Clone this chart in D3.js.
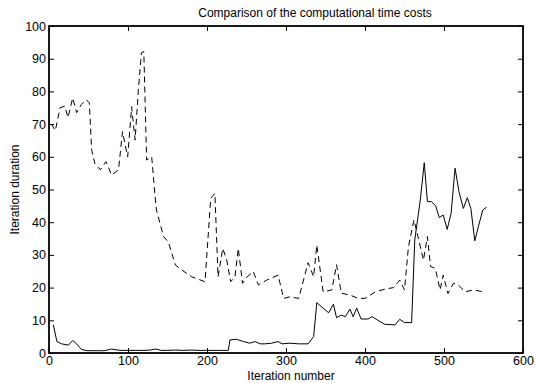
<!DOCTYPE html>
<html>
<head>
<meta charset="utf-8">
<script src="https://cdn.jsdelivr.net/npm/d3@7"></script>
<style>
  body { margin: 0; background: #fff; }
  text { font-family: "Liberation Sans", Arial, Helvetica, sans-serif; fill: #000; }
</style>
</head>
<body>
<div id="chart"></div>
<script>
"use strict";

// solid line (new method)
const solidIter = [5.5, 10, 16, 24.5, 30, 35, 41, 48, 60, 70, 79, 90, 100, 110, 120, 128, 135, 142, 150, 160, 170, 180, 190, 200, 210, 220, 227,
    229, 237.6, 246, 254, 261, 267, 273, 282, 290, 295, 305, 316, 328, 335, 339, 347, 354, 360, 364, 370, 375, 381, 385, 389.5, 395,
    404, 409, 419, 425, 438, 444, 450, 459, 463, 470, 475, 479, 484, 489.5, 494, 499, 504, 509, 514, 519, 524.5, 529.5, 534, 539, 544, 549, 554];
const solidTime = [8.6, 3.5, 2.8, 2.4, 3.8, 2.8, 1.1, 0.7, 0.7, 0.7, 1.2, 0.8, 0.8, 0.8, 0.8, 0.9, 1.2, 0.8, 0.8, 0.9, 0.8, 0.9, 0.8, 0.8, 0.8, 0.8, 0.8,
    4, 4.2, 3.5, 3, 3.5, 2.8, 2.8, 3, 3.5, 2.8, 3, 2.8, 2.8, 5, 15.4, 13.7, 12.3, 14.9, 10.8, 11.6, 11.1, 13.4, 11.1, 13.7, 10.4,
    10.4, 11.1, 9.6, 8.8, 8.6, 10.3, 9.3, 9.3, 34.6, 46.8, 58.2, 46.3, 46.3, 45, 41.4, 42.2, 37.8, 42.7, 56.5, 49.3, 44.2, 47.5, 44.2, 34.3, 39.1, 43.7, 44.6];

// dashed line (reference method)
const dashIter = [3, 8, 14, 20, 24, 30, 35, 41, 47, 51, 54, 58, 65, 72, 75, 79, 88, 93, 99.6, 104.6, 109, 113, 117, 120, 123.6, 130,
    134, 136, 145, 151, 160, 168, 180.6, 197.5, 204.7, 210, 214, 220, 225, 230, 235.4, 239.6, 245, 250, 258.6, 265, 275.6,
    290, 297, 305, 316, 328, 335, 339, 347, 358, 364, 370, 381, 391.5, 400, 413, 425, 436, 444, 450, 455, 462, 468, 474, 479, 483,
    489, 495, 499, 505, 512, 518, 527, 537, 550];
const dashTime = [70, 68, 75, 75.5, 72, 78, 73.5, 76, 77.5, 76.5, 62, 58, 56, 58.5, 57, 54.4, 56, 67.7, 60, 75.3, 65.1, 80, 91.8, 92.2, 59, 60,
    48.8, 43.7, 35.6, 34, 26.9, 25.4, 23.3, 21.8, 47.3, 48.8, 23.3, 32, 28.4, 21.8, 23.3, 32, 21.3, 23.1, 24.9, 20.8, 22.3,
    23.8, 16.7, 17.2, 16.7, 27.6, 23.3, 33, 18.7, 19.3, 27, 18.3, 17.7, 16.7, 16.7, 18.7, 19.5, 20, 22.3, 19.3, 32.5, 40.7, 34.6, 28.4, 35.6, 26.4,
    25.9, 19.3, 23.8, 18.2, 21.3, 20.8, 18.7, 19.3, 18.7];

const xTicks = [0, 100, 200, 300, 400, 500, 600];
const yTicks = [0, 10, 20, 30, 40, 50, 60, 70, 80, 90, 100];

const titleText = "Comparison of the computational time costs";
const xLabel = "Iteration number";
const yLabel = "Iteration duration";

const width = 535, height = 383;
const margin = { top: 26, right: 12, bottom: 30, left: 49 };
const innerW = width - margin.left - margin.right,
    innerH = height - margin.top - margin.bottom;

const svg = d3.select("#chart").append("svg")
    .attr("width", width)
    .attr("height", height);

const g = svg.append("g")
    .attr("transform", "translate(" + margin.left + "," + margin.top + ")");

const x = d3.scaleLinear().domain([0, 600]).range([0, innerW]);
const y = d3.scaleLinear().domain([0, 100]).range([innerH, 0]);

// axes, ticks pointing inward like matlab
const tickLen = 5;
g.append("g")
    .attr("transform", "translate(0," + innerH + ")")
    .call(d3.axisBottom(x).tickValues(xTicks).tickSizeInner(-tickLen).tickSizeOuter(0).tickPadding(3));
g.append("g")
    .call(d3.axisLeft(y).tickValues(yTicks).tickSizeInner(-tickLen).tickSizeOuter(0).tickPadding(3));
g.append("g")
    .call(d3.axisTop(x).tickValues(xTicks).tickSizeInner(-tickLen).tickSizeOuter(0).tickFormat(""));
g.append("g")
    .attr("transform", "translate(" + innerW + ",0)")
    .call(d3.axisRight(y).tickValues(yTicks).tickSizeInner(-tickLen).tickSizeOuter(0).tickFormat(""));

g.selectAll(".domain").remove();
g.selectAll(".tick line").attr("stroke", "#000").attr("stroke-width", 1);
g.selectAll(".tick text")
    .style("font-family", "'Liberation Sans', Arial, sans-serif")
    .style("font-size", "12.5px")
    .attr("fill", "#000");

// box
g.append("rect")
    .attr("width", innerW)
    .attr("height", innerH)
    .attr("fill", "none")
    .attr("stroke", "#000")
    .attr("stroke-width", 1.8);

const line = d3.line()
    .x(d => x(d[0]))
    .y(d => y(d[1]));

g.append("path")
    .datum(d3.zip(dashIter, dashTime))
    .attr("fill", "none")
    .attr("stroke", "#000")
    .attr("stroke-width", 1)
    .attr("stroke-dasharray", "6,4")
    .attr("d", line);

g.append("path")
    .datum(d3.zip(solidIter, solidTime))
    .attr("fill", "none")
    .attr("stroke", "#000")
    .attr("stroke-width", 1)
    .attr("d", line);

// texts
svg.append("text")
    .attr("x", 315)
    .attr("y", 17)
    .attr("text-anchor", "middle")
    .style("font-size", "12px")
    .text(titleText);

svg.append("text")
    .attr("x", margin.left + innerW / 2 + 5)
    .attr("y", 380)
    .attr("text-anchor", "middle")
    .style("font-size", "12px")
    .text(xLabel);

svg.append("text")
    .attr("transform", "translate(19," + (margin.top + innerH / 2) + ") rotate(-90)")
    .attr("text-anchor", "middle")
    .style("font-size", "12px")
    .text(yLabel);
</script>
</body>
</html>
